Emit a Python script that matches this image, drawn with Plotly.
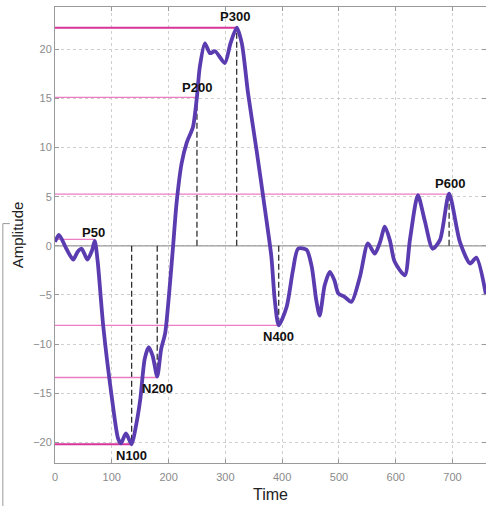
import plotly.graph_objects as go

# Waveform samples
time = [0, 7, 20, 32, 40, 47, 57, 65, 70, 75, 85, 100, 111, 116, 125, 135, 142, 150, 158,
        165, 172, 180, 187, 194, 200, 208, 214, 223, 232, 243, 250, 255, 264, 273, 282,
        299, 309, 320, 329, 340, 355, 370, 381, 387, 394, 408, 419, 428, 443, 452,
        460, 466, 475, 484, 492, 499, 510, 522, 537, 551, 563, 572, 581, 590, 598, 616,
        625, 639, 651, 665, 678, 694, 713, 731, 742, 759]
amplitude = [0.4, 1.1, -0.3, -1.4, -0.6, -0.3, -1.4, -0.5, 0.5, -1.5, -8.2, -15.4, -19.6,
             -20.1, -19.1, -20.2, -18.5, -15.7, -11.5, -10.3, -11.2, -13.3, -10.5, -8.9,
             -5.5, 0.0, 4.3, 8.4, 10.5, 12.1, 15.2, 18.2, 20.6, 19.6, 19.8, 18.6, 20.6,
             22.2, 20.6, 15.5, 9.7, 3.6, -1.1, -5.5, -8.1, -6.2, -2.5, -0.3, -0.4,
             -2.1, -5.5, -7.1, -4.0, -2.65, -3.5, -4.85, -5.2, -5.7, -3.15, 0.25, -0.8,
             0.3, 1.95, 0.5, -1.6, -3.0, 0.6, 5.15, 2.6, -0.3, 0.6, 5.3, 0.4, -1.8, -1.2,
             -5.0]

# Peak components
peak_names = ["P50", "N100", "N200", "P200", "P300", "N400", "P600"]
peak_times = [70, 135, 180, 250, 320, 394, 694]
peak_amps = [0.65, -20.2, -13.4, 15.1, 22.2, -8.1, 5.25]
label_times = [68, 134, 180, 250, 317, 394, 695]
label_amps = [1.4, -21.35, -14.5, 16.1, 23.3, -9.2, 6.35]

x_ticks = [0, 100, 200, 300, 400, 500, 600, 700]
y_ticks = [-20, -15, -10, -5, 0, 5, 10, 15, 20]

X_RANGE = [0, 759]
Y_RANGE = [-22.1, 24.3]

fig = go.Figure()

# zero line
fig.add_trace(go.Scatter(x=X_RANGE, y=[0, 0], mode="lines",
                         line=dict(color="#9a9a9a", width=1.2),
                         hoverinfo="skip", showlegend=False))

# horizontal pink reference lines and vertical dashed lines
for name, t, a in zip(peak_names, peak_times, peak_amps):
    strong = name in ("P300", "N100")
    fig.add_trace(go.Scatter(x=[0, t], y=[a, a], mode="lines",
                             line=dict(color="#d8359a" if strong else "#ec7cc4",
                                       width=2 if strong else 1.3),
                             hoverinfo="skip", showlegend=False))
    if name != "P50":
        fig.add_trace(go.Scatter(x=[t, t], y=[0, a], mode="lines",
                                 line=dict(color="#222222", width=1.2, dash="6px,3px"),
                                 hoverinfo="skip", showlegend=False))

# waveform
fig.add_trace(go.Scatter(x=time, y=amplitude, mode="lines",
                         line=dict(color="#5a3cb0", width=3.8, shape="spline", smoothing=0.7),
                         showlegend=False))

for name, t, a in zip(peak_names, label_times, label_amps):
    fig.add_annotation(x=t, y=a, text="<b>%s</b>" % name, showarrow=False,
                       font=dict(family="Liberation Sans, Arial", size=13, color="#111111"))

axis_common = dict(showline=True, linecolor="#9a9a9a", linewidth=1, mirror="ticks",
                   ticks="inside", ticklen=4, tickcolor="#9a9a9a",
                   showgrid=True, gridcolor="#cfcfcf", griddash="dot", gridwidth=1,
                   zeroline=False, automargin=False,
                   tickfont=dict(family="Liberation Sans, Arial", size=11, color="#8a8a8a"))

fig.update_xaxes(range=X_RANGE, tickvals=x_ticks, ticklabelstandoff=4, **axis_common,
                 title=dict(text="Time", standoff=6,
                            font=dict(family="Liberation Sans, Arial", size=16, color="#222222")))
fig.update_yaxes(range=Y_RANGE, tickvals=y_ticks, **axis_common,
                 title=dict(text="Amplitude", standoff=5,
                            font=dict(family="Liberation Sans, Arial", size=15, color="#222222")))

# bracket artifact on the left edge
fig.add_shape(type="line", xref="paper", yref="paper", x0=-0.121, x1=-0.121, y0=0.525, y1=-0.1,
              line=dict(color="#999999", width=1))
fig.add_shape(type="line", xref="paper", yref="paper", x0=-0.121, x1=-0.105, y0=0.525, y1=0.525,
              line=dict(color="#999999", width=1))

fig.update_layout(width=486, height=506, margin=dict(l=55, r=0, t=7, b=43),
                  plot_bgcolor="white", paper_bgcolor="white")

fig.write_html("out.html", config={"displayModeBar": False},
               post_script="document.body.style.margin='0';")
